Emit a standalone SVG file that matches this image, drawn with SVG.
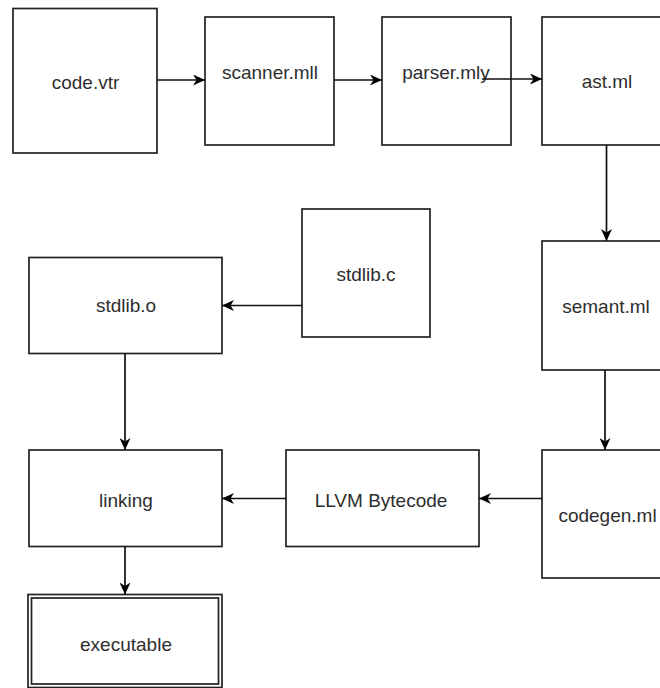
<svg xmlns="http://www.w3.org/2000/svg" width="660" height="688" viewBox="0 0 660 688">
<defs>
<marker id="arr" markerWidth="13" markerHeight="11" viewBox="0 0 13 11" refX="12" refY="5.5" orient="auto" markerUnits="userSpaceOnUse">
<path d="M0,0 L12,5.5 L0,11 L3.5,5.5 Z" fill="#000"/>
</marker>
<style>
.box{fill:#fff;stroke:#222;stroke-width:1.7}
.lbl{font-family:"Liberation Sans",Arial,sans-serif;font-size:19px;fill:#2e2e2e;text-anchor:middle}
.edge{fill:none;stroke:#111;stroke-width:1.7;marker-end:url(#arr)}
</style>
</defs>
<rect width="660" height="688" fill="#fff"/>
<g id="code"><rect class="box" x="13" y="8.5" width="144" height="144.5"/><text class="lbl" x="85.5" y="88.5">code.vtr</text></g>
<g id="scanner"><rect class="box" x="205" y="17" width="129" height="128"/><text class="lbl" x="270" y="79">scanner.mll</text></g>
<g id="parser"><rect class="box" x="382" y="17" width="129" height="128"/><text class="lbl" x="446" y="79">parser.mly</text></g>
<g id="ast"><rect class="box" x="542" y="17" width="130" height="128"/><text class="lbl" x="607" y="88">ast.ml</text></g>
<g id="semant"><rect class="box" x="542" y="241" width="130" height="129"/><text class="lbl" x="606" y="313">semant.ml</text></g>
<g id="codegen"><rect class="box" x="542" y="450" width="130" height="128"/><text class="lbl" x="607.5" y="522">codegen.ml</text></g>
<g id="stdlibc"><rect class="box" x="302" y="209" width="128" height="128"/><text class="lbl" x="366" y="281">stdlib.c</text></g>
<g id="stdlibo"><rect class="box" x="29" y="257.5" width="193" height="96"/><text class="lbl" x="126" y="312">stdlib.o</text></g>
<g id="llvm"><rect class="box" x="286" y="450" width="193" height="96.5"/><text class="lbl" x="381" y="506.5">LLVM Bytecode</text></g>
<g id="linking"><rect class="box" x="29" y="450" width="193" height="96.5"/><text class="lbl" x="126" y="506.5">linking</text></g>
<g id="executable"><rect class="box" x="28" y="594.5" width="194" height="93"/><rect class="box" x="31.5" y="598" width="187" height="86"/><text class="lbl" x="126" y="650.5">executable</text></g>
<g id="connectors">
<line class="edge" x1="157" y1="80" x2="205" y2="80"/>
<line class="edge" x1="334" y1="80" x2="382" y2="80"/>
<line class="edge" x1="482" y1="79" x2="542" y2="79"/>
<line class="edge" x1="606.5" y1="145" x2="606.5" y2="241"/>
<line class="edge" x1="605" y1="370" x2="605" y2="450"/>
<line class="edge" x1="542" y1="498.5" x2="479" y2="498.5"/>
<line class="edge" x1="286" y1="498.5" x2="222" y2="498.5"/>
<line class="edge" x1="302" y1="305.5" x2="222" y2="305.5"/>
<line class="edge" x1="125" y1="353.5" x2="125" y2="450"/>
<line class="edge" x1="125" y1="546.5" x2="125" y2="594.5"/>
</g>
</svg>
